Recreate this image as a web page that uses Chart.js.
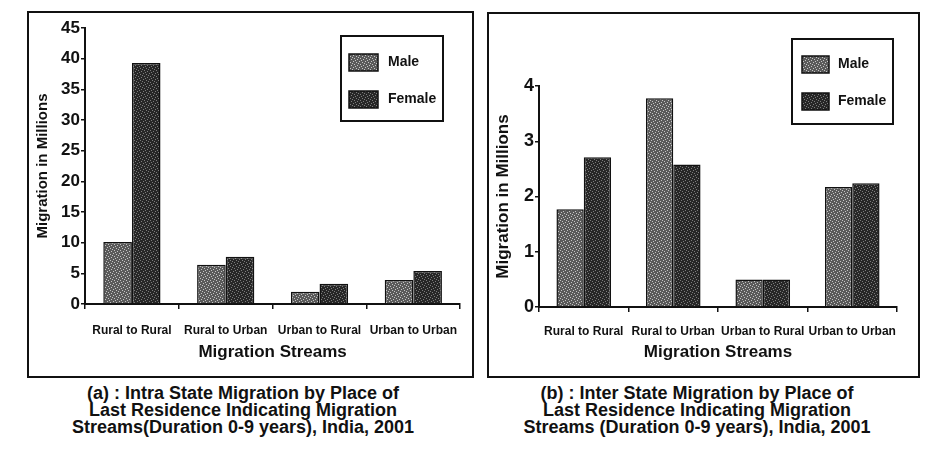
<!DOCTYPE html>
<html>
<head>
<meta charset="utf-8">
<script src="https://cdn.jsdelivr.net/npm/chart.js@4.4.1/dist/chart.umd.min.js"></script>
<style>
  body { margin: 0; background: #fff; font-family: "Liberation Sans", Arial, sans-serif; }
  .frame { position: absolute; border: 2px solid #111; box-sizing: border-box; background: #fff; }
  .frame canvas { display: block; }
  .caption { position: absolute; width: 470px; text-align: center; font-weight: bold;
             font-size: 18px; line-height: 17px; color: #111; }
</style>
</head>
<body>
<div class="frame" style="left:27px;top:11px;width:447px;height:367px">
  <canvas id="intra" width="443" height="363"></canvas>
</div>
<div class="frame" style="left:487px;top:12px;width:433px;height:366px">
  <canvas id="inter" width="429" height="362"></canvas>
</div>
<div class="caption" style="left:8px;top:385px">(a) : Intra State Migration by Place of<br>Last Residence Indicating Migration<br>Streams(Duration 0-9 years), India, 2001</div>
<div class="caption" style="left:462px;top:385px">(b) : Inter State Migration by Place of<br>Last Residence Indicating Migration<br>Streams (Duration 0-9 years), India, 2001</div>

<script>
// values (millions)
const streams = ["Rural to Rural", "Rural to Urban", "Urban to Rural", "Urban to Urban"];
const intraMale = [10.1, 6.4, 2.0, 3.9];
const intraFemale = [39.3, 7.7, 3.3, 5.4];
const interMale = [1.77, 3.78, 0.5, 2.17];
const interFemale = [2.71, 2.58, 0.5, 2.24];
const intraAxis = { max: 45, step: 5 };
const interAxis = { max: 4, step: 1 };

Chart.defaults.font.family = "'Liberation Sans', Arial, sans-serif";
Chart.defaults.color = "#111";

// stippled fills, like the printed bars
function stipple(base, dot) {
  const c = document.createElement("canvas");
  c.width = 6; c.height = 6;
  const g = c.getContext("2d");
  g.fillStyle = base;
  g.fillRect(0, 0, 6, 6);
  g.fillStyle = dot;
  [[0, 0], [3, 1], [1, 3], [4, 4], [5, 2], [2, 5]].forEach(([x, y]) => g.fillRect(x, y, 1, 1));
  return g.createPattern(c, "repeat");
}
const maleFill = stipple("#5a5a5a", "#c4c4c4");
const femaleFill = stipple("#272727", "#7c7c7c");

// boxed legend drawn inside the plot, as in the print
const boxLegend = {
  id: "boxLegend",
  afterDraw(chart, args, o) {
    const ctx = chart.ctx;
    ctx.save();
    ctx.fillStyle = "#fff";
    ctx.fillRect(o.x, o.y, o.w, o.h);
    ctx.strokeStyle = "#111";
    ctx.lineWidth = 2;
    ctx.strokeRect(o.x, o.y, o.w, o.h);
    chart.data.datasets.forEach((ds, i) => {
      const sy = o.y + o.rowTop + i * o.rowGap;
      ctx.fillStyle = ds.backgroundColor;
      ctx.fillRect(o.x + o.sx, sy, o.sw, o.sh);
      ctx.lineWidth = 1.5;
      ctx.strokeRect(o.x + o.sx, sy, o.sw, o.sh);
      ctx.fillStyle = "#111";
      ctx.font = "bold 14px 'Liberation Sans', Arial, sans-serif";
      ctx.textBaseline = "middle";
      ctx.fillText(ds.label, o.x + o.tx, sy + o.sh / 2);
    });
    ctx.restore();
  },
};

function migrationChart(id, male, female, axis, look) {
  return new Chart(document.getElementById(id), {
    type: "bar",
    data: {
      labels: streams,
      datasets: [
        { label: "Male", data: male, backgroundColor: maleFill, borderColor: "#111", borderWidth: 1.5 },
        { label: "Female", data: female, backgroundColor: femaleFill, borderColor: "#111", borderWidth: 1.5 },
      ],
    },
    options: {
      responsive: false,
      animation: false,
      layout: { padding: { top: look.top, right: look.right, left: 0, bottom: 0 } },
      datasets: { bar: { categoryPercentage: 0.61, barPercentage: 1.0 } },
      plugins: {
        legend: { display: false },
        tooltip: { enabled: false },
        boxLegend: look.legend,
      },
      scales: {
        x: {
          grid: { drawOnChartArea: false, tickLength: 5, color: "#111", lineWidth: 1.5 },
          border: { color: "#111", width: 2 },
          ticks: { font: { size: 12, weight: "bold" }, padding: look.xPad, maxRotation: 0, autoSkip: false },
          title: {
            display: true,
            text: "Migration Streams",
            font: { size: 17, weight: "bold" },
            padding: { top: 0, bottom: 13 },
          },
          afterFit: (s) => { s.height = look.xHeight; },
        },
        y: {
          min: 0,
          max: axis.max,
          grid: { drawOnChartArea: false, tickLength: 4, color: "#111", lineWidth: 1.5 },
          border: { color: "#111", width: 2 },
          ticks: { stepSize: axis.step, padding: 1, font: { size: look.tickSize, weight: "bold" } },
          title: {
            display: true,
            text: "Migration in Millions",
            font: { size: look.titleSize, weight: "bold" },
            padding: { top: look.titlePad, bottom: 0 },
          },
          afterFit: (s) => { s.width = look.yWidth; },
        },
      },
    },
    plugins: [boxLegend],
  });
}

migrationChart("intra", intraMale, intraFemale, intraAxis, {
  top: 15, right: 8, xHeight: 72, yWidth: 56, xPad: 14, tickSize: 17, titleSize: 15, titlePad: 5,
  legend: { x: 312, y: 23, w: 102, h: 85, sx: 8, sw: 29, sh: 17, rowTop: 18, rowGap: 37, tx: 47 },
});

migrationChart("inter", interMale, interFemale, interAxis, {
  top: 72, right: 21, xHeight: 69, yWidth: 50, xPad: 12, tickSize: 18, titleSize: 17, titlePad: 4,
  legend: { x: 303, y: 25, w: 101, h: 85, sx: 10, sw: 27, sh: 17, rowTop: 17, rowGap: 37, tx: 46 },
});
</script>
</body>
</html>
